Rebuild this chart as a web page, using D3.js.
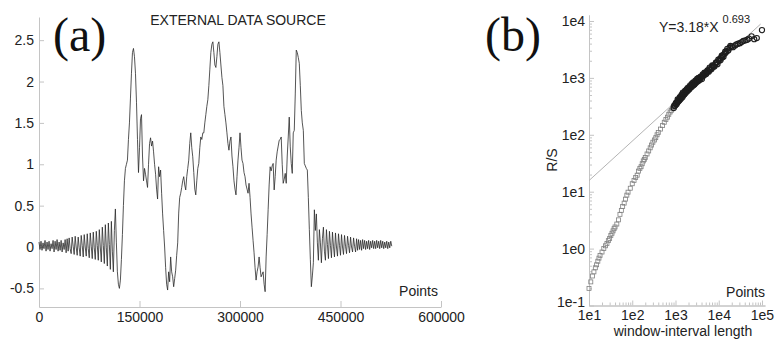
<!DOCTYPE html>
<html lang="en">
<head>
<meta charset="UTF-8">
<title>External data source / R-S analysis</title>
<script src="https://cdn.jsdelivr.net/npm/d3@7"></script>
<style>
  body { margin: 0; padding: 0; background: #fff; overflow: hidden; }
  svg { display: block; }
  .axis path, .axis line { stroke: #c4c4c4; }
  .axis text { fill: #222; font: 14px "Liberation Sans", Arial, sans-serif; }
  .lbl { fill: #222; font: 14px "Liberation Sans", Arial, sans-serif; }
  .panel { fill: #111; font: 48px "Liberation Serif", "Times New Roman", serif; }
</style>
</head>
<body>
<div id="chart"></div>
<script>
// (a) signal, one value every 1500 points
const sampleStep = 1500;
const signal = [
  0.06,-0.03,0.07,-0.04,0.05,-0.02,0.08,-0.05,0.06,-0.03,0.07,-0.05,0.04,-0.02,0.08,-0.06,0.07,-0.03,0.09,-0.05,
  0.06,-0.04,0.08,-0.06,0.05,-0.03,0.09,-0.07,0.10,-0.05,
  0.11,-0.02,-0.08,0.12,0.01,-0.09,0.13,0.00,-0.10,0.12,-0.01,-0.11,0.14,0.02,-0.12,0.15,0.00,-0.11,0.16,-0.02,
  -0.13,0.17,0.01,-0.14,0.18,-0.01,-0.15,0.19,0.02,-0.16,
  0.21,0.00,-0.18,0.24,0.02,-0.20,0.27,-0.01,-0.23,0.29,0.03,-0.27,0.31,-0.05,-0.30,0.20,0.46,
  0.05,-0.30,-0.45,-0.50,-0.40,-0.15,0.15,0.50,0.80,0.95,
  1.00,1.05,1.30,1.50,1.80,2.10,2.35,2.40,2.30,2.10,
  1.75,1.30,0.90,1.20,1.55,1.60,1.10,0.80,0.95,0.88,
  0.80,0.72,1.00,1.25,1.32,1.22,1.28,1.15,1.00,0.88,
  0.70,0.58,0.97,0.85,0.93,0.65,0.40,0.20,0.00,-0.25,
  -0.45,-0.52,-0.30,-0.42,-0.12,-0.30,-0.36,-0.48,-0.38,-0.28,
  -0.10,0.05,0.41,0.60,0.65,0.72,0.80,0.85,0.75,0.69,
  0.85,0.95,1.05,1.25,1.38,1.20,1.09,0.90,0.70,0.63,
  0.80,0.95,1.01,1.20,1.33,1.30,1.38,1.38,1.50,1.60,
  1.70,1.78,1.95,2.15,2.35,2.45,2.48,2.35,2.20,2.17,
  2.30,2.45,2.48,2.35,2.20,2.05,1.95,1.70,1.60,1.50,
  1.38,1.25,1.17,1.28,1.33,1.10,0.97,0.80,0.70,0.63,
  0.85,1.05,1.20,1.38,1.20,1.05,1.01,0.90,0.85,0.75,
  0.70,0.65,0.77,0.60,0.40,0.24,0.08,-0.07,-0.25,-0.40,
  -0.30,-0.24,-0.12,-0.25,-0.36,-0.33,-0.30,-0.45,-0.54,-0.12,
  0.15,0.45,0.75,0.97,0.92,0.98,1.01,0.69,0.85,1.05,
  1.15,1.22,1.29,1.30,1.33,1.00,0.77,0.82,0.89,0.77,
  1.10,1.33,1.57,1.21,1.01,0.89,1.38,1.41,1.85,2.38,
  2.35,2.29,2.22,1.95,1.65,1.50,1.41,1.01,0.98,0.95,
  0.93,0.60,0.21,-0.15,-0.48,-0.35,-0.19,0.45,0.20,0.40,
  0.05,-0.16,0.21,0.05,-0.19,0.10,0.24,-0.05,-0.16,0.21,
  0.03,-0.14,0.19,0.02,-0.13,0.18,0.01,-0.12,0.17,0.00,
  -0.11,0.16,0.02,-0.10,0.15,0.00,-0.09,0.14,0.01,-0.08,
  0.13,0.02,-0.07,0.12,0.00,-0.06,0.11,0.01,-0.06,0.10,
  -0.04,0.09,-0.03,0.08,-0.04,0.09,-0.02,0.08,-0.03,0.07,
  -0.02,0.08,-0.03,0.07,-0.01,0.08,-0.02,0.07,-0.02,0.08,
  -0.01,0.07,-0.02,0.08,-0.01,0.07,-0.02,0.06,-0.01,0.07,
  -0.02,0.06,-0.01,0.07,0.01
];
const xTicksA = [0, 150000, 300000, 450000, 600000];
const yTicksA = [-0.5, 0, 0.5, 1, 1.5, 2, 2.5];

// (b) R/S against window-interval length
const sqWindow = [10,11,12,13,14,15,16,17,18,20,22,24,26,28,30,32,34,36,38,40,44,48,52,56,60,65,70,75,80,90,
  100,110,120,130,140,150,160,170,180,190,200,220,240,260,280,300,325,350,375,400,450,500,550,600,650,700,750,800,850,900];
const sqRS = [0.20,0.26,0.33,0.39,0.46,0.52,0.60,0.68,0.76,0.87,1.0,1.12,1.23,1.38,1.5,1.7,1.86,2.05,2.24,2.4,2.7,3.2,4.0,4.7,5.5,6.3,7.4,8.7,9.8,11.5,
  13.8,15.8,17.8,19.5,23,25.7,27.5,31,34.7,37,40,46,52,59,66,74,81,89,100,110,126,145,166,186,204,229,251,269,295,309];
const ciWindow = [933,1000,1047,1070,1150,1175,1230,1320,1349,1410,1510,1549,1620,1740,1778,1860,2000,2042,2140,2290,2344,2450,2630,2692,
  2820,3020,3090,3240,3470,3548,3720,3980,4169,4370,4790,5012,5250,5750,6026,6310,6920,7244,7590,8320,8710,9120,10000,10471,
  11200,12023,12600,13490,14100,15136,15800,17800,20000,24000,28200,33900,41700,50100,57500,66100,75900,100000,
  912,977,1023,1096,1122,1202,1259,1288,1380,1445,1479,1585,1660,1698,1820,1905,1950,2089,2188,2239,2399,2512,2570,2754,
  2884,2951,3162,3311,3388,3631,3802,4074,4266,4571,4677,5129,5495,5888,6166,6761,7079,7943,8511,9333,9772,10965,
  11749,12882,14454,16596,18621,21380,25704,30903,37154,45709];
const ciRS = [324,347,339,372,398,389,427,457,437,490,525,501,550,589,562,617,646,631,692,724,692,759,794,759,
  832,871,851,912,933,912,977,1023,1072,1096,1175,1230,1259,1318,1413,1413,1514,1622,1585,1698,1862,1862,1995,2138,
  2239,2291,2512,2630,2884,2951,3236,3388,3548,3715,3981,4266,4571,4898,5370,4786,5012,6918,
  295,324,363,363,417,398,457,417,501,457,550,513,589,537,631,589,676,631,741,676,794,724,832,776,
  891,813,955,871,1000,933,1047,955,1148,1096,1230,1175,1349,1288,1514,1413,1660,1585,1820,1738,2089,2042,
  2455,2344,2754,3020,3631,3467,3890,4074,4467,4677];
const fitA = 3.18, fitB = 0.693;
const fitWindow = [10, 93000];
const xTicksB = [1e1, 1e2, 1e3, 1e4, 1e5];
const xLabelsB = ["1e1", "1e2", "1e3", "1e4", "1e5"];
const yTicksB = [1e-1, 1e0, 1e1, 1e2, 1e3, 1e4];
const yLabelsB = ["1e-1", "1e0", "1e1", "1e2", "1e3", "1e4"];

const width = 775, height = 339;
const svg = d3.select("#chart").append("svg")
  .attr("width", width).attr("height", height);
svg.append("rect").attr("width", width).attr("height", height).attr("fill", "#fff");

// ---- panel (a)
const xA = d3.scaleLinear().domain([0, 600000]).range([39, 441]);
const yA = d3.scaleLinear().domain([-0.725, 2.78]).range([307, 17]);

svg.append("g").attr("class", "axis").attr("transform", "translate(0,307)")
  .call(d3.axisBottom(xA).tickValues(xTicksA).tickSize(-6).tickSizeOuter(0)
    .tickPadding(5).tickFormat(d3.format("d")));
svg.append("g").attr("class", "axis").attr("transform", "translate(39,0)")
  .call(d3.axisLeft(yA).tickValues(yTicksA).tickSize(-5).tickSizeOuter(0)
    .tickPadding(5).tickFormat(d => String(d)));

svg.append("path")
  .datum(signal)
  .attr("fill", "none")
  .attr("stroke", "#2a2a2a")
  .attr("stroke-width", 0.8)
  .attr("d", d3.line().x((d, i) => xA(i * sampleStep)).y(d => yA(d)));

svg.append("text").attr("class", "lbl").attr("x", 238).attr("y", 25)
  .attr("text-anchor", "middle").text("EXTERNAL DATA SOURCE");
svg.append("text").attr("class", "lbl").attr("x", 438).attr("y", 296)
  .attr("text-anchor", "end").text("Points");
svg.append("text").attr("class", "panel").attr("x", 53).attr("y", 51).text("(a)");

// ---- panel (b)
const xB = d3.scaleLog().domain([10, Math.pow(10, 5.07)]).range([589, 765]);
const yB = d3.scaleLog().domain([0.1, Math.pow(10, 4.105)]).range([305.5, 15]);

const minorX = xB.ticks().filter(t => !xTicksB.includes(t));
const minorY = yB.ticks().filter(t => !yTicksB.includes(t));

svg.append("g").attr("class", "axis").attr("transform", "translate(0,305.5)")
  .call(d3.axisBottom(xB).tickValues(minorX).tickSize(-3).tickSizeOuter(0).tickFormat(""));
svg.append("g").attr("class", "axis").attr("transform", "translate(0,305.5)")
  .call(d3.axisBottom(xB).tickValues(xTicksB).tickSize(-5).tickSizeOuter(0)
    .tickPadding(5).tickFormat((d, i) => xLabelsB[i]));
svg.append("g").attr("class", "axis").attr("transform", "translate(589,0)")
  .call(d3.axisLeft(yB).tickValues(minorY).tickSize(-3).tickSizeOuter(0).tickFormat(""));
svg.append("g").attr("class", "axis").attr("transform", "translate(589,0)")
  .call(d3.axisLeft(yB).tickValues(yTicksB).tickSize(-5).tickSizeOuter(0)
    .tickPadding(4).tickFormat((d, i) => yLabelsB[i]))
  .selectAll(".tick text").filter(d => d === 0.1).attr("dy", "0.1em");

// fit line
svg.append("path")
  .datum(fitWindow)
  .attr("fill", "none")
  .attr("stroke", "#b4b4b4")
  .attr("stroke-width", 1)
  .attr("d", d3.line().x(d => xB(d)).y(d => yB(fitA * Math.pow(d, fitB))));

// squares
svg.append("g").selectAll("rect")
  .data(sqWindow.map((w, i) => [w, sqRS[i]]))
  .join("rect")
  .attr("x", d => xB(d[0]) - 2)
  .attr("y", d => yB(d[1]) - 2)
  .attr("width", 4).attr("height", 4)
  .attr("fill", "none")
  .attr("stroke", "#808080")
  .attr("stroke-width", 0.8);

// circles
svg.append("g").selectAll("circle")
  .data(ciWindow.map((w, i) => [w, ciRS[i]]))
  .join("circle")
  .attr("cx", d => xB(d[0]))
  .attr("cy", d => yB(d[1]))
  .attr("r", 2.6)
  .attr("fill", "none")
  .attr("stroke", "#1e1e1e")
  .attr("stroke-width", 1.1);

const eq = svg.append("text").attr("class", "lbl").attr("x", 659).attr("y", 32);
eq.append("tspan").text("Y=3.18*X");
eq.append("tspan").attr("dx", 4).attr("dy", -9).style("font-size", "11px").text("0.693");

svg.append("text").attr("class", "lbl").attr("x", 765).attr("y", 297)
  .attr("text-anchor", "end").text("Points");
svg.append("text").attr("class", "lbl").attr("x", 683).attr("y", 336)
  .attr("text-anchor", "middle").text("window-interval length");
svg.append("text").attr("class", "lbl")
  .attr("transform", "translate(557,160) rotate(-90)")
  .attr("text-anchor", "middle").text("R/S");
svg.append("text").attr("class", "panel").attr("x", 485).attr("y", 51).text("(b)");
</script>
</body>
</html>
